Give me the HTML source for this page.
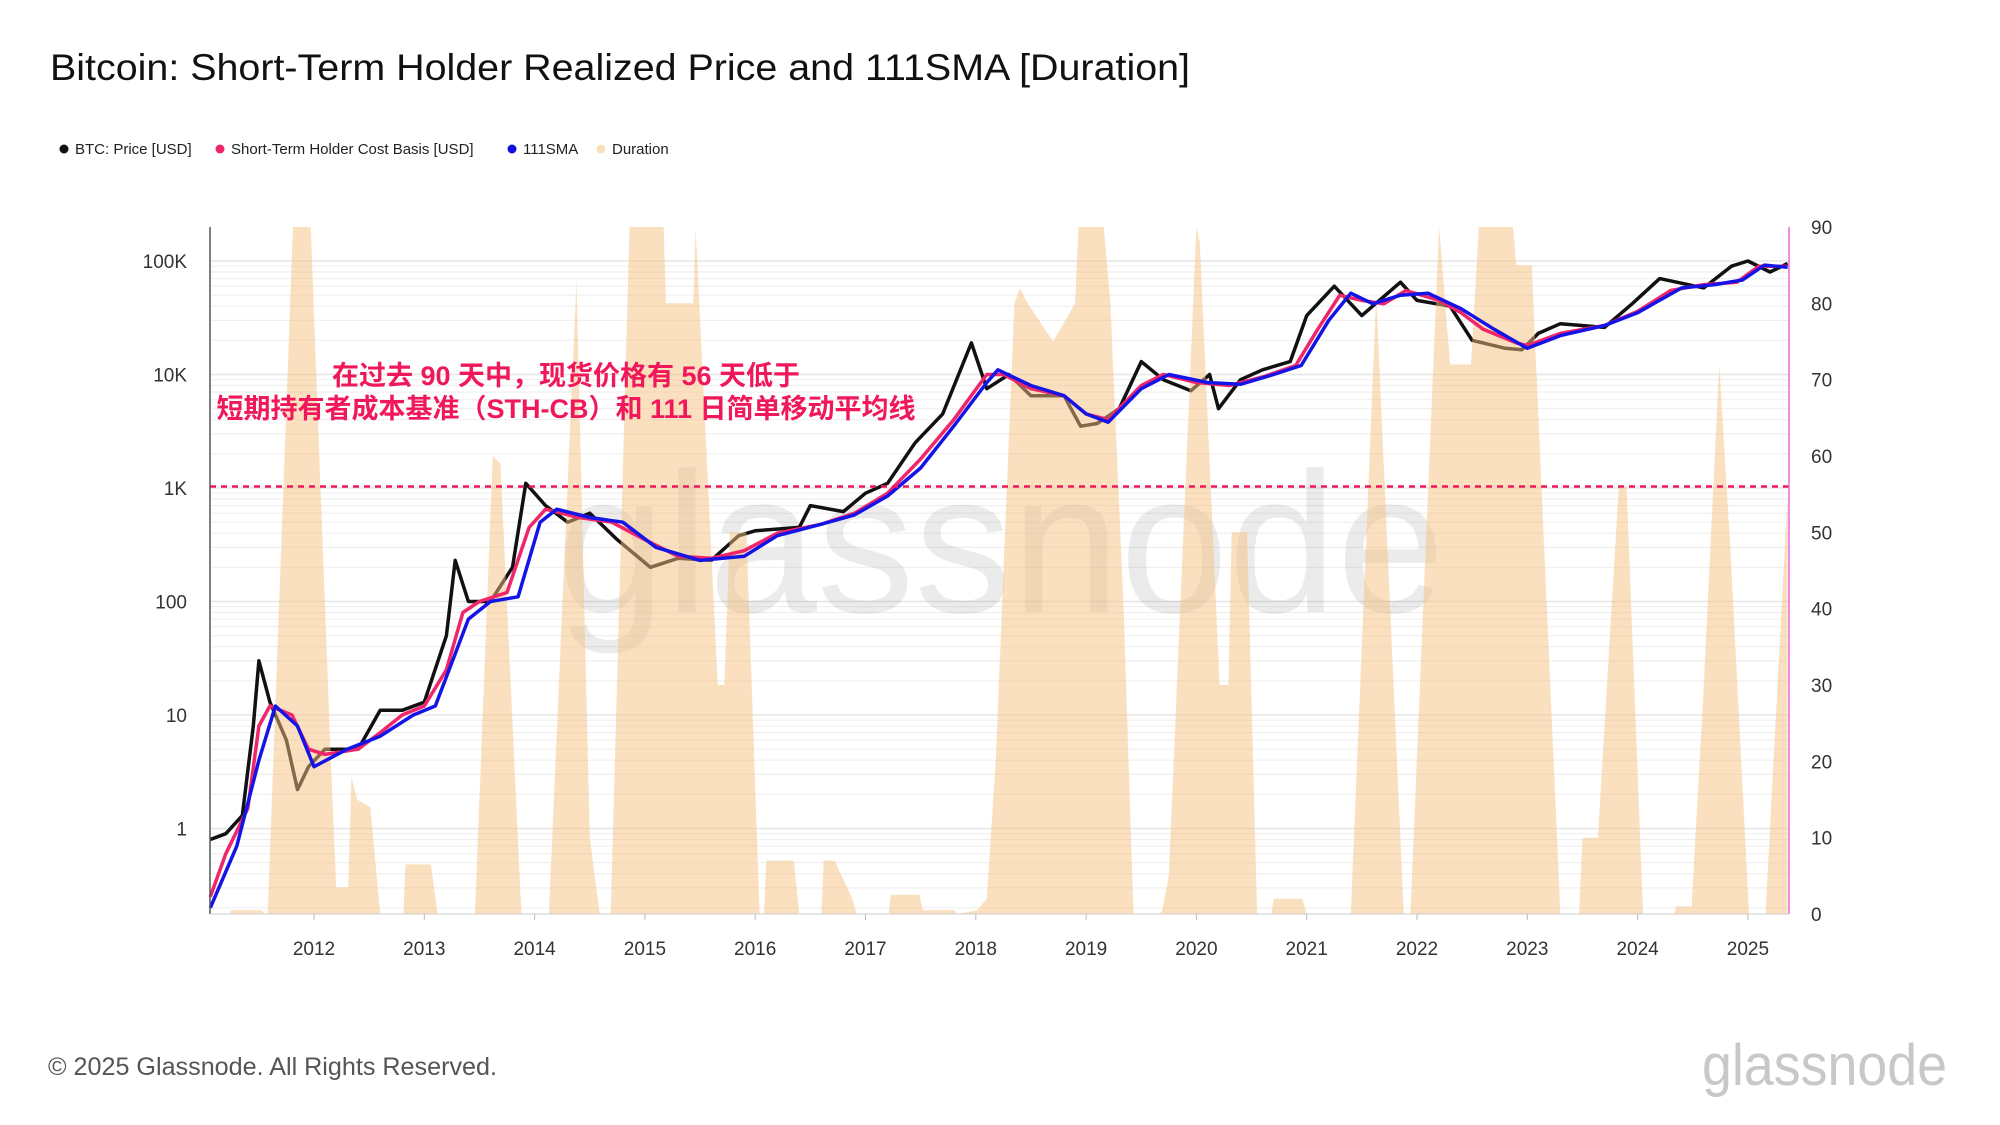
<!DOCTYPE html>
<html><head><meta charset="utf-8">
<style>
html,body{margin:0;padding:0;background:#fff;}
body{width:2000px;height:1125px;overflow:hidden;position:relative;font-family:"Liberation Sans","Noto Sans CJK SC",sans-serif;}
</style></head>
<body>
<svg id="chart" width="2000" height="1125" xmlns="http://www.w3.org/2000/svg" style="position:absolute;left:0;top:0">
<text x="50" y="80" font-size="37" textLength="1140" lengthAdjust="spacingAndGlyphs" fill="#111" font-family="Liberation Sans, sans-serif">Bitcoin: Short-Term Holder Realized Price and 111SMA [Duration]</text>
<g font-size="15" fill="#222" font-family="Liberation Sans, sans-serif">
<g><circle cx="64" cy="149" r="4.5" fill="#111"/><text x="75" y="154">BTC: Price [USD]</text></g>
<g><circle cx="220" cy="149" r="4.5" fill="#f0256a"/><text x="231" y="154">Short-Term Holder Cost Basis [USD]</text></g>
<g><circle cx="512" cy="149" r="4.5" fill="#1010e0"/><text x="523" y="154">111SMA</text></g>
<g><circle cx="601" cy="149" r="4.5" fill="#fadfbf"/><text x="612" y="154">Duration</text></g>
</g>
<g id="grid"></g>
<text x="557" y="612" font-size="200" textLength="888" lengthAdjust="spacingAndGlyphs" fill="#000" fill-opacity="0.08" font-family="Liberation Sans, sans-serif">glassnode</text>
<g id="marks"></g>
<g id="axes" font-size="19" fill="#333" font-family="Liberation Sans, sans-serif"></g>
<g font-size="27" font-weight="bold" fill="#f0185a" text-anchor="middle" font-family="Liberation Sans, Noto Sans CJK SC, sans-serif">
<text x="566" y="385">在过去 90 天中，现货价格有 56 天低于</text>
<text x="566" y="418">短期持有者成本基准（STH-CB）和 111 日简单移动平均线</text>
</g>
<text x="48" y="1075" font-size="25" textLength="449" lengthAdjust="spacingAndGlyphs" fill="#555" font-family="Liberation Sans, sans-serif">© 2025 Glassnode. All Rights Reserved.</text>
<text x="1702" y="1085" font-size="58" textLength="245" lengthAdjust="spacingAndGlyphs" fill="#c8c8c8" font-family="Liberation Sans, sans-serif">glassnode</text>
</svg>
<script>
var durDates=[2011.06,2011.24,2011.24,2011.53,2011.55,2011.58,2011.81,2011.97,2012.14,2012.2,2012.31,2012.34,2012.39,2012.51,2012.60,2012.81,2012.83,2013.06,2013.12,2013.46,2013.62,2013.69,2013.88,2014.13,2014.38,2014.50,2014.59,2014.69,2014.86,2015.17,2015.19,2015.44,2015.46,2015.66,2015.72,2015.77,2015.92,2016.04,2016.08,2016.10,2016.35,2016.40,2016.60,2016.62,2016.72,2016.88,2016.92,2017.21,2017.23,2017.49,2017.52,2017.81,2017.83,2018.01,2018.10,2018.18,2018.35,2018.40,2018.47,2018.70,2018.90,2018.93,2019.16,2019.22,2019.34,2019.43,2019.67,2019.69,2019.75,2020.00,2020.03,2020.21,2020.29,2020.32,2020.46,2020.55,2020.68,2020.70,2020.96,2021.00,2021.40,2021.63,2021.88,2021.94,2022.20,2022.30,2022.49,2022.56,2022.87,2022.90,2023.04,2023.30,2023.47,2023.50,2023.64,2023.83,2023.90,2024.05,2024.33,2024.35,2024.49,2024.60,2024.74,2024.84,2025.01,2025.16,2025.36];
var durValues=[0,0,0.5,0.5,0,0,90,90,25,3.5,3.5,18,15,14,0,0,6.5,6.5,0,0,60,59,0,0,83,10,0,0,90,90,80,80,90,30,30,50,50,0,0,7,7,0,0,7,7,2,0,0,2.5,2.5,0.5,0.5,0,0.5,2,20,80,82,80,75,80,90,90,80,40,0,0,0.5,5,90,88,30,30,50,50,0,0,2,2,0,0,81,0,0,90,72,72,90,90,85,85,0,0,10,10,56,56,0,0,1,1,30,72,48,0,0,55];
var priceDates=[2011.06,2011.2,2011.35,2011.45,2011.5,2011.6,2011.75,2011.85,2011.95,2012.1,2012.4,2012.6,2012.8,2013.0,2013.2,2013.28,2013.4,2013.6,2013.8,2013.92,2014.1,2014.3,2014.5,2014.75,2015.05,2015.3,2015.6,2015.85,2016.0,2016.4,2016.5,2016.8,2017.0,2017.2,2017.45,2017.7,2017.96,2018.1,2018.3,2018.5,2018.8,2018.95,2019.1,2019.3,2019.5,2019.7,2019.95,2020.12,2020.2,2020.4,2020.6,2020.85,2021.0,2021.25,2021.5,2021.85,2022.0,2022.3,2022.5,2022.8,2022.95,2023.1,2023.3,2023.7,2023.95,2024.2,2024.6,2024.85,2025.0,2025.2,2025.36];
var priceValues=[0.8,0.9,1.3,8,30,13,6,2.2,3.5,5,5,11,11,13,50,230,100,100,200,1100,700,500,600,350,200,240,230,380,420,450,700,620,900,1100,2500,4500,19000,7500,10000,6500,6500,3500,3700,5000,13000,9000,7200,10000,5000,9000,11000,13000,33000,60000,33000,65000,45000,40000,20000,17000,16500,23000,28000,26000,42000,70000,58000,90000,100000,80000,95000];
var sthDates=[2011.06,2011.2,2011.4,2011.5,2011.6,2011.8,2011.95,2012.1,2012.4,2012.6,2012.8,2013.0,2013.2,2013.35,2013.5,2013.75,2013.95,2014.1,2014.4,2014.7,2015.0,2015.3,2015.6,2015.9,2016.2,2016.6,2016.9,2017.2,2017.5,2017.8,2018.1,2018.25,2018.5,2018.8,2019.0,2019.2,2019.5,2019.7,2020.0,2020.3,2020.6,2020.9,2021.1,2021.3,2021.5,2021.7,2021.9,2022.2,2022.4,2022.6,2022.9,2023.0,2023.3,2023.7,2024.0,2024.3,2024.6,2024.9,2025.1,2025.36];
var sthValues=[0.25,0.6,1.5,8,12,10,5,4.5,5,7,10,12,25,80,100,120,450,650,550,500,350,250,240,280,400,480,600,900,1800,4000,10000,10000,7500,6500,4500,4000,8000,10000,8500,8000,9500,12000,25000,50000,45000,42000,55000,45000,35000,25000,19000,18000,23000,27000,36000,55000,62000,65000,90000,90000];
var smaDates=[2011.06,2011.3,2011.5,2011.65,2011.85,2012.0,2012.3,2012.6,2012.9,2013.1,2013.4,2013.6,2013.85,2014.05,2014.2,2014.5,2014.8,2015.1,2015.5,2015.9,2016.2,2016.6,2016.9,2017.2,2017.5,2017.8,2018.1,2018.2,2018.5,2018.8,2019.0,2019.2,2019.5,2019.75,2020.1,2020.4,2020.7,2020.95,2021.2,2021.4,2021.6,2021.85,2022.1,2022.4,2022.7,2023.0,2023.3,2023.7,2024.0,2024.4,2024.7,2024.95,2025.15,2025.36];
var smaValues=[0.2,0.7,4,12,8,3.5,5,6.5,10,12,70,100,110,500,650,550,500,300,230,250,380,480,580,850,1500,3500,8500,11000,8000,6500,4500,3800,7500,10000,8500,8200,10000,12000,30000,52000,42000,50000,52000,38000,25000,17000,22000,27000,35000,58000,62000,68000,92000,88000];
var yearTicks=[2012,2013,2014,2015,2016,2017,2018,2019,2020,2021,2022,2023,2024,2025];
var leftTicks=[1,10,100,1000,10000,100000];
var leftTickLabels=["1","10","100","1K","10K","100K"];
var rightTicks=[0,10,20,30,40,50,60,70,80,90];
var thresholdDays=56;

var L=210,R=1789,T=227,B=914;
function xs(yr){return 314+(yr-2012)*110.3;}
function yl(p){return 261+(5-Math.log10(p))*113.5;}
function yr(d){return B-(d/90)*(B-T);}
var NS="http://www.w3.org/2000/svg";
function mk(tag,parent,attrs){var e=document.createElementNS(NS,tag);for(var k in attrs)e.setAttribute(k,attrs[k]);parent.appendChild(e);return e;}
var grid=document.getElementById('grid'),marks=document.getElementById('marks'),axes=document.getElementById('axes');
for(var d=-1;d<=5;d++){for(var m=1;m<=9;m++){var v=m*Math.pow(10,d);var y=yl(v);if(y<T||y>B)continue;
var gl=mk('line',grid,{x1:L,x2:R,y1:y,y2:y,stroke:m==1?'#e6e6e6':'#efefef','stroke-width':m==1?1.5:1.2});

}}
function path(dates,vals,fy){var s='';for(var i=0;i<dates.length;i++){s+=(i?'L':'M')+xs(dates[i]).toFixed(1)+','+fy(vals[i]).toFixed(1);}return s;}
var pp=mk('path',marks,{d:path(priceDates,priceValues,yl),fill:'none',stroke:'#111','stroke-width':3.5,'stroke-linejoin':'round'});


var ds='M'+xs(durDates[0])+','+B;for(var i=0;i<durDates.length;i++){ds+='L'+xs(durDates[i]).toFixed(1)+','+yr(durValues[i]).toFixed(1);}ds+='L'+xs(durDates[durDates.length-1])+','+B+'Z';
var da=mk('path',marks,{d:ds,fill:'#f7c181','fill-opacity':0.5});


var sp=mk('path',marks,{d:path(sthDates,sthValues,yl),fill:'none',stroke:'#f0256a','stroke-width':3.5,'stroke-linejoin':'round'});


var mp=mk('path',marks,{d:path(smaDates,smaValues,yl),fill:'none',stroke:'#1414e6','stroke-width':3.5,'stroke-linejoin':'round'});


var th=mk('line',marks,{x1:L,x2:R,y1:yr(thresholdDays),y2:yr(thresholdDays),stroke:'#f0185a','stroke-width':2.5,'stroke-dasharray':'6,5'});


var la=mk('line',axes,{x1:L,x2:L,y1:T,y2:B,stroke:'#555','stroke-width':1.5});


var ra=mk('line',axes,{x1:R,x2:R,y1:T,y2:B,stroke:'#ee66dd','stroke-width':1.5});


var ba=mk('line',axes,{x1:L,x2:R,y1:B,y2:B,stroke:'#ccc','stroke-width':1});


yearTicks.forEach(function(yv){var x=xs(yv);
var tk=mk('line',axes,{x1:x,x2:x,y1:B,y2:B+6,stroke:'#bbb'});


var t=mk('text',axes,{x:x,y:955,'text-anchor':'middle'});t.textContent=yv;

});
leftTicks.forEach(function(v,i){var t=mk('text',axes,{x:187,y:yl(v)+7,'text-anchor':'end'});t.textContent=leftTickLabels[i];

});
rightTicks.forEach(function(v){var t=mk('text',axes,{x:1811,y:yr(v)+7});t.textContent=v;

});
</script>
</body></html>
